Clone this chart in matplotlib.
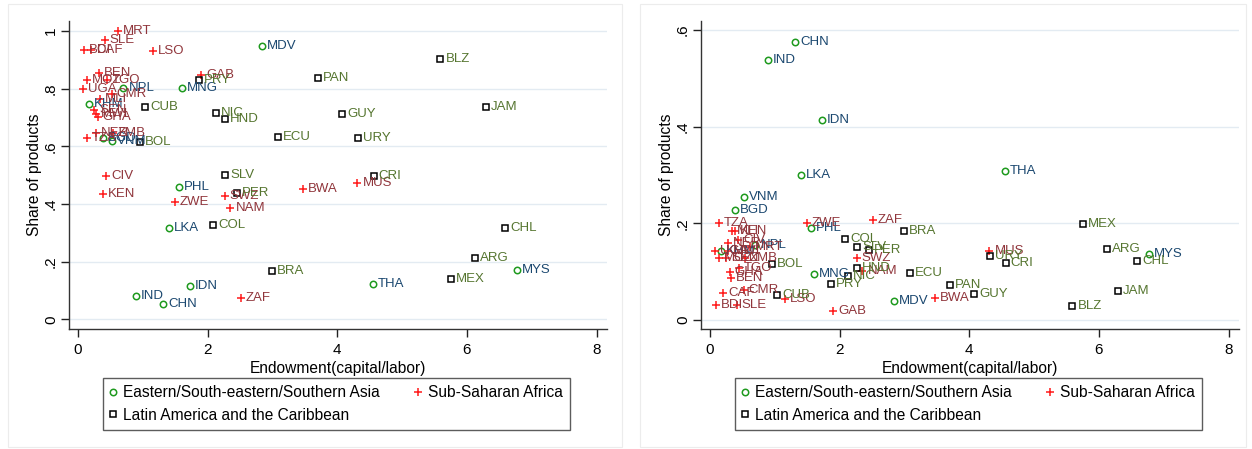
import matplotlib
matplotlib.use("Agg")
import matplotlib.pyplot as plt
from matplotlib.lines import Line2D
from matplotlib.patches import Rectangle

plt.rcParams['font.family'] = ['Liberation Sans', 'DejaVu Sans']

# ---------------- data ----------------
asia_codes = ["MDV", "NPL", "MNG", "KHM", "BGD", "VNM", "PHL", "LKA", "IDN", "IND", "CHN", "THA", "MYS"]
asia_x = [2.84, 0.70, 1.60, 0.165, 0.39, 0.53, 1.56, 1.40, 1.72, 0.89, 1.31, 4.55, 6.77]
asia_left = [0.948, 0.804, 0.804, 0.746, 0.630, 0.620, 0.459, 0.317, 0.115, 0.083, 0.055, 0.124, 0.171]
asia_right = [0.038, 0.155, 0.095, 0.142, 0.227, 0.254, 0.190, 0.301, 0.413, 0.538, 0.576, 0.309, 0.137]

africa_codes = ["MRT", "SLE", "BDI", "CAF", "LSO", "BEN", "MOZ", "TGO", "UGA", "CMR", "MLI", "SEN", "MWI",
                "GHA", "NER", "ZMB", "TZA", "CIV", "KEN", "ZWE", "SWZ", "NAM", "BWA", "MUS", "ZAF", "GAB"]
africa_x = [0.62, 0.41, 0.09, 0.20, 1.16, 0.32, 0.14, 0.45, 0.08, 0.52, 0.34, 0.25, 0.28,
            0.30, 0.27, 0.54, 0.13, 0.43, 0.39, 1.49, 2.26, 2.35, 3.47, 4.31, 2.51, 1.90]
africa_left = [1.000, 0.969, 0.934, 0.934, 0.932, 0.855, 0.829, 0.830, 0.800, 0.782, 0.763, 0.726, 0.714,
               0.703, 0.645, 0.647, 0.630, 0.496, 0.435, 0.406, 0.429, 0.385, 0.453, 0.472, 0.073, 0.848]
africa_right = [0.150, 0.031, 0.031, 0.055, 0.044, 0.087, 0.128, 0.107, 0.142, 0.062, 0.183, 0.128, 0.143,
                0.100, 0.160, 0.128, 0.200, 0.165, 0.184, 0.201, 0.129, 0.102, 0.046, 0.142, 0.207, 0.018]

latam_codes = ["BLZ", "PAN", "JAM", "GUY", "URY", "ECU", "NIC", "HND", "CUB", "PRY", "BOL", "SLV", "CRI",
               "PER", "COL", "CHL", "ARG", "BRA", "MEX"]
latam_x = [5.59, 3.70, 6.29, 4.07, 4.32, 3.08, 2.13, 2.27, 1.04, 1.86, 0.955, 2.27, 4.56,
           2.45, 2.08, 6.59, 6.12, 2.99, 5.75]
latam_left = [0.903, 0.837, 0.738, 0.713, 0.630, 0.634, 0.715, 0.696, 0.738, 0.830, 0.617, 0.501, 0.499,
              0.438, 0.326, 0.316, 0.212, 0.169, 0.142]
latam_right = [0.029, 0.073, 0.059, 0.053, 0.132, 0.098, 0.090, 0.107, 0.052, 0.075, 0.116, 0.150, 0.118,
               0.145, 0.168, 0.122, 0.146, 0.184, 0.198]

legend_labels = ["Eastern/South-eastern/Southern Asia", "Sub-Saharan Africa", "Latin America and the Caribbean"]
x_ticks = [0, 2, 4, 6, 8]
left_yticks = [0, 0.2, 0.4, 0.6, 0.8, 1.0]
left_ytick_labels = ["0", ".2", ".4", ".6", ".8", "1"]
right_yticks = [0, 0.2, 0.4, 0.6]
right_ytick_labels = ["0", ".2", ".4", ".6"]

# ---------------- style ----------------
W, H = 1252, 449
fig = plt.figure(figsize=(W / 100, H / 100), dpi=100)
fig.patch.set_facecolor("white")

GREEN = "#1e9a1e"
NAVY = "#1a476f"
RED = "#ff1a1a"
MAROON = "#90353b"
OLIVE = "#55752f"
GRID = "#e3ebf2"

groups = [
    (asia_codes, asia_x, asia_left, asia_right,
     dict(marker="o", mfc="none", mec=GREEN, ms=4.6, mew=1.1), NAVY),
    (africa_codes, africa_x, africa_left, africa_right,
     dict(marker="+", mfc="none", mec=RED, ms=5.5, mew=1.1), MAROON),
    (latam_codes, latam_x, latam_left, latam_right,
     dict(marker="s", mfc="none", mec="black", ms=5.0, mew=1.1), OLIVE),
]


def make_panel(left_px, ylim, yticks, yticklabels, which):
    ax = fig.add_axes([left_px / W, 1 - 329 / H, 538 / W, 308 / H])
    ax.set_xlim(-0.14, 8.16)
    ax.set_ylim(*ylim)
    for codes, xs, yl, yr, mstyle, lcol in groups:
        ys = yl if which == "left" else yr
        ax.plot(xs, ys, linestyle="none", zorder=3, **mstyle)
        for c, xv, yv in zip(codes, xs, ys):
            ax.annotate(c, (xv, yv), xytext=(3.6, 0), textcoords="offset points",
                        ha="left", va="center", fontsize=9.5, color=lcol, zorder=4)
    ax.set_xticks(x_ticks)
    ax.set_xticklabels([str(t) for t in x_ticks])
    ax.set_yticks(yticks)
    ax.set_yticklabels(yticklabels, rotation=90, va="center")
    ax.tick_params(axis="both", direction="out", length=6, width=1, colors="#222222",
                   labelsize=11, labelcolor="black")
    ax.tick_params(axis="y", pad=2)
    ax.tick_params(axis="x", pad=4)
    ax.grid(axis="y", color=GRID, linewidth=1.0, zorder=0)
    ax.set_axisbelow(True)
    for s in ["top", "right"]:
        ax.spines[s].set_visible(False)
    for s in ["left", "bottom"]:
        ax.spines[s].set_color("#333333")
        ax.spines[s].set_linewidth(1.0)
    ax.set_xlabel("Endowment(capital/labor)", fontsize=11.2, labelpad=3)
    ax.set_ylabel("Share of products", fontsize=11.2, labelpad=1)

    handles = [
        Line2D([], [], linestyle="none", **groups[0][4]),
        Line2D([], [], linestyle="none", **groups[2][4]),
        Line2D([], [], linestyle="none", **groups[1][4]),
    ]
    labels = [legend_labels[0], legend_labels[2], legend_labels[1]]
    bb_left = (left_px + 34) / W
    bb_w = 467 / W
    leg = fig.legend(handles, labels, ncol=2, loc="upper left",
                     bbox_to_anchor=(bb_left, 1 - 378 / H, bb_w, 0.0001),
                     mode="expand", fontsize=11.2, frameon=True, fancybox=False,
                     borderpad=0.45, handlelength=0.35, handletextpad=0.5,
                     labelspacing=0.5, columnspacing=1.5, borderaxespad=0)
    leg.get_frame().set_edgecolor("#333333")
    leg.get_frame().set_linewidth(1.0)
    return ax


axL = make_panel(69, (-0.033, 1.035), left_yticks, left_ytick_labels, "left")
axR = make_panel(701, (-0.019, 0.619), right_yticks, right_ytick_labels, "right")

# faint outer borders of the two graph regions
fig.patches.append(Rectangle((8 / W, 2 / H), 614 / W, 443 / H, transform=fig.transFigure,
                             fill=False, edgecolor="#ececec", linewidth=0.8))
fig.patches.append(Rectangle((640 / W, 2 / H), 606 / W, 443 / H, transform=fig.transFigure,
                             fill=False, edgecolor="#ececec", linewidth=0.8))

fig.savefig("out.png", dpi=100, facecolor="white")
